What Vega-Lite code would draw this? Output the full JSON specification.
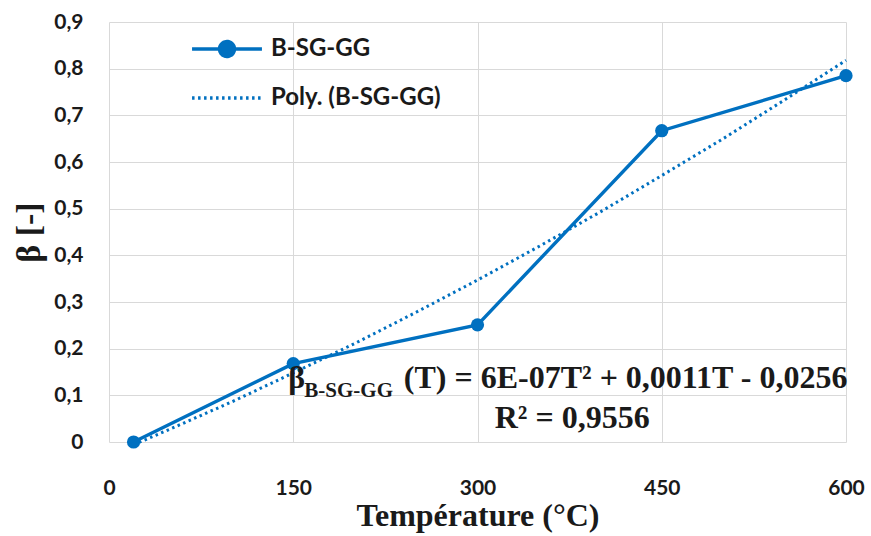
{
  "$schema": "https://vega.github.io/schema/vega-lite/v6.json",
  "width": 737,
  "height": 420,
  "autosize": {"type": "none"},
  "padding": {"left": 109, "top": 22, "right": 25, "bottom": 94},
  "background": "white",
  "config": {
    "view": {"stroke": null},
    "axis": {"grid": true, "gridColor": "#d9d9d9", "gridWidth": 1, "domain": false, "ticks": false, "labelFlush": false,
      "labelFont": "Lato", "labelFontWeight": "bold", "labelFontSize": 21, "labelColor": "#1a1a1a",
      "titleFont": "Liberation Serif", "titleFontWeight": "bold", "titleFontSize": 32, "titleColor": "#1a1a1a"}
  },
  "datasets": {
    "obs": [
      {"T": 20, "beta": 0.0, "series": "B-SG-GG"},
      {"T": 150, "beta": 0.168, "series": "B-SG-GG"},
      {"T": 300, "beta": 0.251, "series": "B-SG-GG"},
      {"T": 450, "beta": 0.667, "series": "B-SG-GG"},
      {"T": 600, "beta": 0.785, "series": "B-SG-GG"}
    ],
    "trend": [
      {"T": 20, "beta": -0.006, "series": "Poly. (B-SG-GG)"},
      {"T": 50, "beta": 0.028, "series": "Poly. (B-SG-GG)"},
      {"T": 100, "beta": 0.086, "series": "Poly. (B-SG-GG)"},
      {"T": 150, "beta": 0.148, "series": "Poly. (B-SG-GG)"},
      {"T": 200, "beta": 0.211, "series": "Poly. (B-SG-GG)"},
      {"T": 250, "beta": 0.278, "series": "Poly. (B-SG-GG)"},
      {"T": 300, "beta": 0.347, "series": "Poly. (B-SG-GG)"},
      {"T": 350, "beta": 0.419, "series": "Poly. (B-SG-GG)"},
      {"T": 400, "beta": 0.493, "series": "Poly. (B-SG-GG)"},
      {"T": 450, "beta": 0.571, "series": "Poly. (B-SG-GG)"},
      {"T": 500, "beta": 0.650, "series": "Poly. (B-SG-GG)"},
      {"T": 550, "beta": 0.733, "series": "Poly. (B-SG-GG)"},
      {"T": 600, "beta": 0.818, "series": "Poly. (B-SG-GG)"}
    ],
    "eqMain": [
      {"T": 146, "beta": 0.1157, "label": "β"},
      {"T": 240, "beta": 0.1157, "label": "(T) = 6E-07T² + 0,0011T - 0,0256"},
      {"T": 314, "beta": 0.030, "label": "R² = 0,9556"}
    ],
    "eqSub": [
      {"T": 159, "beta": 0.0964, "label": "B-SG-GG"}
    ]
  },
  "encoding": {
    "x": {"field": "T", "type": "quantitative",
      "scale": {"domain": [0, 600], "nice": false, "zero": false},
      "axis": {"values": [0, 150, 300, 450, 600], "title": "Température (°C)", "labelPadding": 35, "titlePadding": 2}},
    "y": {"field": "beta", "type": "quantitative",
      "scale": {"domain": [0, 0.9], "nice": false},
      "axis": {"values": [0, 0.1, 0.2, 0.3, 0.4, 0.5, 0.6, 0.7, 0.8, 0.9], "title": "β [-]", "labelPadding": 26, "titlePadding": 7, "titleFontSize": 34,
        "labelExpr": "datum.value == 0 ? '0' : replace(format(datum.value, '.1f'), '.', ',')"}}
  },
  "layer": [
    {
      "data": {"name": "trend"},
      "mark": {"type": "line", "strokeWidth": 3, "strokeCap": "butt"},
      "encoding": {
        "color": {"field": "series", "type": "nominal",
          "scale": {"domain": ["B-SG-GG", "Poly. (B-SG-GG)"], "range": ["#0070C0", "#0070C0"]},
          "legend": {"title": null, "orient": "none", "legendX": 101, "legendY": 10, "padding": 0,
            "labelFont": "Lato", "labelFontWeight": "bold", "labelFontSize": 24, "labelColor": "#1a1a1a", "labelLimit": 400,
            "rowPadding": 17, "symbolSize": 900, "symbolStrokeWidth": 3.4, "labelOffset": 27,
            "encode": {"symbols": {"update": {
              "shape": {"signal": "datum.value === 'B-SG-GG' ? 'M-2.33,0L-0.5,0M0.5,0L2.33,0M0.5,0A0.5,0.5 0 1,1 -0.5,0A0.5,0.5 0 1,1 0.5,0' : 'M-2.33,0L2.33,0'"},
              "fill": {"signal": "datum.value === 'B-SG-GG' ? '#0070C0' : 'transparent'"},
              "strokeDash": {"signal": "datum.value === 'B-SG-GG' ? [1,0] : [2.5,3.5]"}
            }}}}},
        "strokeDash": {"field": "series", "type": "nominal",
          "scale": {"domain": ["B-SG-GG", "Poly. (B-SG-GG)"], "range": [[1, 0], [2.5, 3.5]]},
          "legend": null}
      }
    },
    {
      "data": {"name": "obs"},
      "mark": {"type": "line", "strokeWidth": 3.4, "color": "#0070C0",
        "point": {"filled": true, "size": 175, "color": "#0070C0"}},
      "encoding": {
        "color": {"field": "series", "type": "nominal"}
      }
    },
    {
      "data": {"name": "eqMain"},
      "mark": {"type": "text", "align": "left", "baseline": "alphabetic", "font": "Liberation Serif", "fontWeight": "bold", "fontSize": 32, "color": "#1a1a1a"},
      "encoding": {"text": {"field": "label"}}
    },
    {
      "data": {"name": "eqSub"},
      "mark": {"type": "text", "align": "left", "baseline": "alphabetic", "font": "Liberation Serif", "fontWeight": "bold", "fontSize": 21, "color": "#1a1a1a"},
      "encoding": {"text": {"field": "label"}}
    }
  ]
}
